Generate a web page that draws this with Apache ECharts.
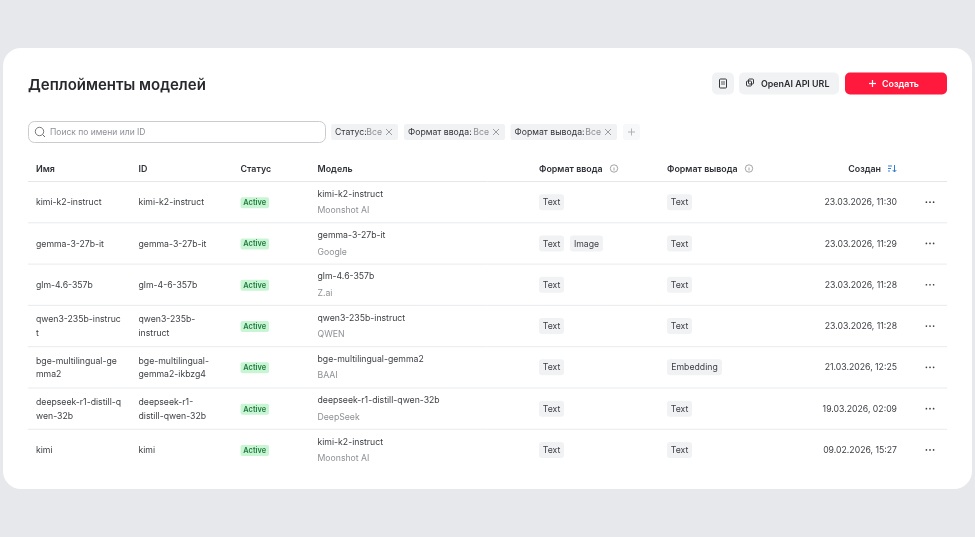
<!DOCTYPE html>
<html>
<head>
<meta charset="utf-8">
<style>
html, body { margin: 0; padding: 0; background: #e6e8eb; }
#chart-container { width: 975px; height: 537px; }
</style>
<script src="https://cdn.jsdelivr.net/npm/echarts@6/dist/echarts.min.js"></script>
</head>
<body>
<div id="chart-container"></div>
<script>
// table content
const pageTitle = "Деплойменты моделей";
const headers = ["Имя", "ID", "Статус", "Модель", "Формат ввода", "Формат вывода"];
const sortHeader = "Создан";
const filters = ["Статус:", "Формат ввода:", "Формат вывода:"];
const names = [
    "kimi-k2-instruct", "gemma-3-27b-it", "glm-4.6-357b", "qwen3-235b-instruc\nt",
    "bge-multilingual-ge\nmma2", "deepseek-r1-distill-q\nwen-32b", "kimi",
];
const ids = [
    "kimi-k2-instruct", "gemma-3-27b-it", "glm-4-6-357b", "qwen3-235b-\ninstruct",
    "bge-multilingual-\ngemma2-ikbzg4", "deepseek-r1-\ndistill-qwen-32b", "kimi",
];
const statuses = ["Active", "Active", "Active", "Active", "Active", "Active", "Active"];
const models = [
    "kimi-k2-instruct", "gemma-3-27b-it", "glm-4.6-357b", "qwen3-235b-instruct",
    "bge-multilingual-gemma2", "deepseek-r1-distill-qwen-32b", "kimi-k2-instruct",
];
const vendors = ["Moonshot AI", "Google", "Z.ai", "QWEN", "BAAI", "DeepSeek", "Moonshot AI"];
const inputs = [["Text"], ["Text", "Image"], ["Text"], ["Text"], ["Text"], ["Text"], ["Text"]];
const outputs = [["Text"], ["Text"], ["Text"], ["Text"], ["Embedding"], ["Text"], ["Text"]];
const created = [
    "23.03.2026, 11:30", "23.03.2026, 11:29", "23.03.2026, 11:28", "23.03.2026, 11:28",
    "21.03.2026, 12:25", "19.03.2026, 02:09", "09.02.2026, 15:27",
];

const FONT = "Inter, 'Noto Sans', sans-serif";
const TEXT = "#3b3e43";
const MUTED = "#8d9095";
const HEAD = "#2f3237";
const CHIP = "#f1f2f4";
const LINE = "#e9ebee";
const BODY = "400 8.7px";
const BOLD = "600 8.9px";
const COL = { name: 36, id: 138.5, status: 240.5, model: 317.5, input: 539, output: 667, date: 897, dots: 930 };
const TAG_W = { Text: 25, Image: 33, Embedding: 55 };

function txt(text, x, y, font, fill, align) {
    return {
        type: "text",
        style: { text: text, x: x, y: y + 0.5, font: font + " " + FONT, fill: fill, textAlign: align || "left", textVerticalAlign: "middle", verticalAlign: "middle", lineHeight: 13.5 },
    };
}

function box(x, y, w, h, r, fill, stroke) {
    return {
        type: "rect",
        shape: { x: x, y: y, width: w, height: h, r: r },
        style: { fill: fill, stroke: stroke || null, lineWidth: 1 },
    };
}

function seg(x1, y1, x2, y2, color, width) {
    return {
        type: "line",
        shape: { x1: x1, y1: y1, x2: x2, y2: y2 },
        style: { stroke: color, lineWidth: width || 1 },
    };
}

function ring(cx, cy, r, color) {
    return {
        type: "circle",
        shape: { cx: cx, cy: cy, r: r },
        style: { fill: null, stroke: color, lineWidth: 0.8 },
    };
}

function cross(cx, cy) {
    return [seg(cx - 3, cy - 3, cx + 3, cy + 3, "#84878c", 0.8), seg(cx - 3, cy + 3, cx + 3, cy - 3, "#84878c", 0.8)];
}

function tags(list, x, y) {
    let out = [];
    list.forEach(function (t) {
        let w = TAG_W[t];
        out.push(box(x, y - 8, w, 16, 3, CHIP));
        out.push(txt(t, x + w / 2, y, BODY, TEXT, "center"));
        x += w + 6;
    });
    return out;
}

// page furniture that is not table data
function chrome() {
    let g = [];
    g.push(box(3, 48, 969, 441, 18, "#ffffff"));
    g.push(txt(pageTitle, 28, 85, "600 15px", "#26282c"));

    // top right buttons
    g.push(box(712, 72.5, 22, 22, 5, CHIP));
    g.push(box(719.5, 79, 7, 9, 1, null, "#34373b"));
    g.push(seg(721, 82, 725, 82, "#34373b", 0.8), seg(721, 84, 725, 84, "#34373b", 0.8));
    g.push(box(739, 72.5, 100, 22, 5, CHIP));
    g.push(box(746.5, 81, 5, 5, 1, null, "#34373b"), box(748.5, 79, 5, 5, 1, null, "#34373b"));
    g.push(txt("OpenAI API URL", 761, 83.5, BOLD, "#2b2d31"));
    g.push(box(845, 72.5, 102, 22, 5, "#ff1a3d"));
    g.push(seg(869, 83.5, 876, 83.5, "#fff", 1.2), seg(872.5, 80, 872.5, 87, "#fff", 1.2));
    g.push(txt("Создать", 882, 83.5, BOLD, "#ffffff"));

    // search box
    g.push(box(28.5, 121.5, 297, 21, 6, "#fff", "#c9cbce"));
    g.push(ring(39.5, 131.5, 4.2, "#55585c"), seg(42.6, 134.6, 45, 137, "#55585c", 0.9));
    g.push(txt("Поиск по имени или ID", 50, 132, "400 8.5px", MUTED));

    // filter chips
    let chipX = [331, 404, 510.5];
    let chipW = [67, 101, 106.5];
    filters.forEach(function (f, i) {
        g.push(box(chipX[i], 124, chipW[i], 16, 2, CHIP));
        g.push(txt(f, chipX[i] + 4, 132, BODY, "#33363a"));
        g.push(txt("Все", chipX[i] + chipW[i] - 16, 132, BODY, MUTED, "right"));
        g = g.concat(cross(chipX[i] + chipW[i] - 9, 132));
    });
    g.push(box(623, 124, 17, 16, 3, "#f7f8f9"));
    g.push(seg(628, 132, 635, 132, "#a9acb0", 0.9), seg(631.5, 128.5, 631.5, 135.5, "#a9acb0", 0.9));

    // table header
    let headX = [COL.name, COL.id, COL.status, COL.model, COL.input, COL.output];
    headers.forEach(function (h, i) {
        g.push(txt(h, headX[i], 168.5, BOLD, HEAD));
    });
    g.push(txt(sortHeader, 881, 168.5, BOLD, HEAD, "right"));
    [614, 749].forEach(function (x) {
        g.push(ring(x, 168.5, 3.7, "#8a8d91"));
        g.push(seg(x, 167.5, x, 170.5, "#8a8d91", 0.8));
    });
    g.push(seg(888, 166, 892, 166, "#2f7fd6", 1), seg(888, 168.5, 891, 168.5, "#2f7fd6", 1), seg(888, 171, 890, 171, "#2f7fd6", 1));
    g.push(seg(894.5, 165, 894.5, 172, "#2f7fd6", 1), seg(892.7, 170, 894.5, 172, "#2f7fd6", 1), seg(896.3, 170, 894.5, 172, "#2f7fd6", 1));
    g.push(seg(28, 181.5, 947, 181.5, "#e4e6e9", 1));
    return g;
}

let myChart = echarts.init(document.getElementById("chart-container"), null, { renderer: "canvas" });

function renderRow(params, api) {
    let i = params.dataIndex;
    let c = api.coord([0, i])[1];
    let band = api.size([0, 1])[1];
    let kids = [];
    if (i < names.length - 1) {
        kids.push(seg(28, c + band / 2, 947, c + band / 2, LINE, 1));
    }
    kids.push(txt(names[i], COL.name, c, BODY, TEXT));
    kids.push(txt(ids[i], COL.id, c, BODY, TEXT));
    kids.push(box(COL.status, c - 5, 28.5, 11, 2, "#c9f5d5"));
    kids.push(txt(statuses[i], COL.status + 14.2, c + 0.3, "600 7.4px", "#1f7a3d", "center"));
    kids.push(txt(models[i], COL.model, c - 8.5, BODY, TEXT));
    kids.push(txt(vendors[i], COL.model, c + 8, BODY, MUTED));
    kids = kids.concat(tags(inputs[i], COL.input, c));
    kids = kids.concat(tags(outputs[i], COL.output, c));
    kids.push(txt(created[i], COL.date, c, BODY, TEXT, "right"));
    [-3.6, 0, 3.6].forEach(function (dx) {
        kids.push({ type: "circle", shape: { cx: COL.dots + dx, cy: c, r: 0.85 }, style: { fill: "#3b3e43" } });
    });
    return { type: "group", children: kids };
}

let option = {
    animation: false,
    backgroundColor: "#e6e8eb",
    grid: { left: 0, top: 181.5, width: 975, height: 289.1 },
    xAxis: { type: "value", min: 0, max: 975, show: false },
    yAxis: { type: "category", data: names.map(function (n, i) { return i; }), inverse: true, show: false },
    graphic: { elements: [{ type: "group", z: -1, children: chrome() }] },
    series: [{
        type: "custom",
        coordinateSystem: "cartesian2d",
        data: names.map(function (n, i) { return [0, i]; }),
        encode: { x: 0, y: 1 },
        renderItem: renderRow,
    }],
};

myChart.setOption(option);
window.addEventListener("resize", myChart.resize);
</script>
</body>
</html>
